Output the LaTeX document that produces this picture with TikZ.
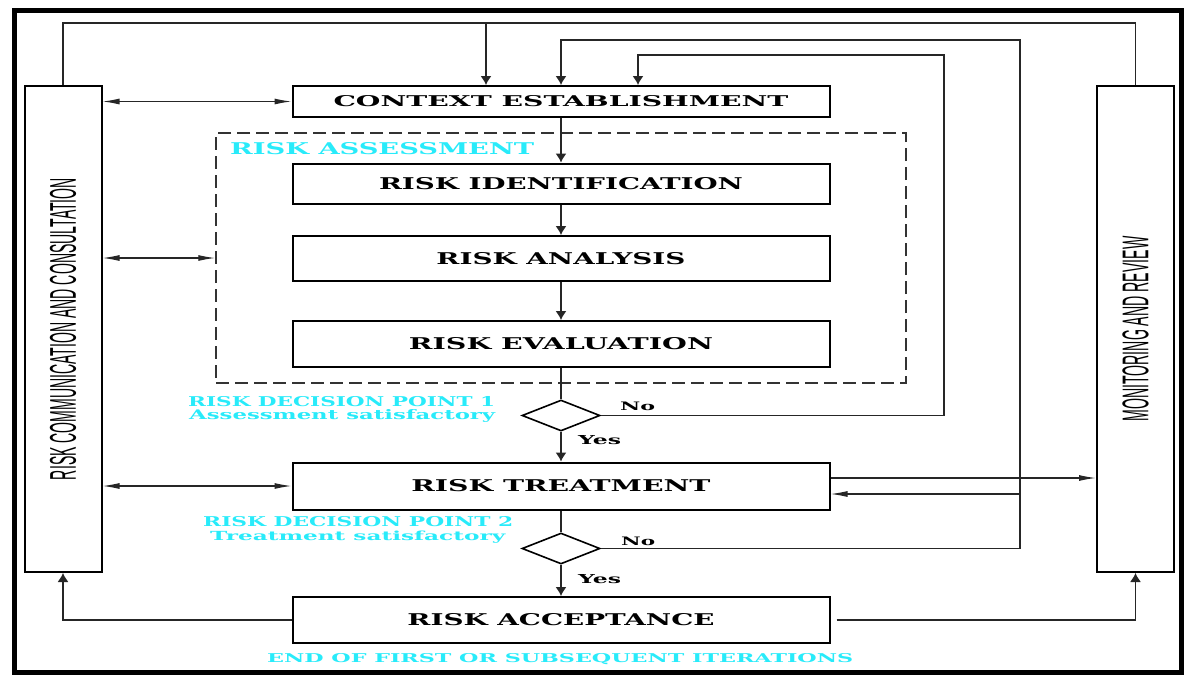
\documentclass[tikz,border=0pt]{standalone}
\usepackage{fontspec}
\setmainfont{DejaVu Serif}
\newfontfamily\vfont{Liberation Sans}
\usetikzlibrary{arrows.meta,shapes.geometric,calc}
\definecolor{cy}{RGB}{40,235,250}
\newcommand{\fitt}[3]{\resizebox{#1pt}{#2pt}{#3}}
\begin{document}
\begin{tikzpicture}[x=1pt,y=-1pt,
  box/.style={draw=black,line width=2pt,minimum width=537pt,inner sep=0pt,fill=white,font=\bfseries},
  tall/.style={draw=black,line width=2pt,minimum width=77pt,minimum height=486pt,inner sep=0pt},
  conn/.style={draw=black!85,line width=1.2pt},
  varr/.style={-{Latex[length=9pt,width=11pt]}},
  harr/.style={-{Latex[length=17pt,width=6pt]}},
  dharr/.style={{Latex[length=17pt,width=6pt]}-{Latex[length=17pt,width=6pt]}},
  dec/.style={diamond,draw=black,line width=1.6pt,minimum width=78pt,minimum height=31pt,inner sep=0pt,aspect=2.5},
  blue/.style={text=cy,inner sep=0pt,font=\bfseries},
  lab/.style={inner sep=0pt,font=\bfseries}]
\useasboundingbox (0,0) rectangle (1184,675);
\fill[white] (0,0) rectangle (1184,675);
\draw[line width=5pt] (14,10) rectangle (1181,672);

% side boxes
\node[tall] (rc) at (63,329) {\rotatebox{90}{\fitt{302}{26}{\vfont RISK COMMUNICATION AND CONSULTATION}}};
\node[tall] (mr) at (1135.5,329) {\rotatebox{90}{\fitt{185}{26}{\vfont MONITORING AND REVIEW}}};

% assessment dashed box
\node[draw=black!80,line width=1.5pt,dash pattern=on 13pt off 6pt,minimum width=690pt,minimum height=250pt,inner sep=0pt] (asm) at (561,258) {};
\node[blue,anchor=west] (asmlab) at (230,149) {\fitt{304}{12}{RISK ASSESSMENT}};

% main boxes
\node[box,minimum height=31pt] (ctx) at (561,101.5) {\fitt{455}{11}{CONTEXT ESTABLISHMENT}};
\node[box,minimum height=40pt] (id) at (561,183.5) {\fitt{364}{12}{RISK IDENTIFICATION}};
\node[box,minimum height=45pt] (an) at (561,258.5) {\fitt{249}{12}{RISK ANALYSIS}};
\node[box,minimum height=46pt] (ev) at (561,344) {\fitt{304}{12}{RISK EVALUATION}};
\node[dec] (d1) at (561,415.5) {};
\node[box,minimum height=47pt] (tr) at (561,486) {\fitt{299}{12}{RISK TREATMENT}};
\node[dec] (d2) at (561,548.5) {};
\node[box,minimum height=46pt] (ac) at (561,620) {\fitt{307}{12}{RISK ACCEPTANCE}};

% blue texts
\node[blue,anchor=west] (dp1) at (188,401.5) {\fitt{307}{10}{RISK DECISION POINT 1}};
\node[blue,anchor=base west] (as1) at (189,419) {\fitt{306}{10}{Assessment satisfactory}};
\node[blue,anchor=west] (dp2) at (203,521.5) {\fitt{310}{10}{RISK DECISION POINT 2}};
\node[blue,anchor=base west] (as2) at (210,540) {\fitt{295}{9.5}{Treatment satisfactory}};
\node[blue,anchor=west] (endl) at (267,659) {\fitt{586}{9}{END OF FIRST OR SUBSEQUENT ITERATIONS}};

% yes / no labels
\node[lab,anchor=base west] (no1) at (620,410) {\fitt{35}{8.5}{No}};
\node[lab,anchor=base west] (yes1) at (578,444) {\fitt{43}{9}{Yes}};
\node[lab,anchor=base west] (no2) at (621,545) {\fitt{34}{8.5}{No}};
\node[lab,anchor=base west] (yes2) at (578,583) {\fitt{43}{9}{Yes}};

% main chain
\draw[conn,varr] (ctx.south) -- (id.north);
\draw[conn,varr] (id.south) -- (an.north);
\draw[conn,varr] (an.south) -- (ev.north);
\draw[conn] (ev.south) -- (d1.north);
\draw[conn,varr] (d1.south) -- (tr.north);
\draw[conn] (tr.south) -- (d2.north);
\draw[conn,varr] (d2.south) -- (ac.north);

% top loop between side boxes
\coordinate (tl) at (63,23);
\coordinate (tb) at (486,23);
\draw[conn] (rc.north) -- (tl) -- (tl -| mr.north) -- (mr.north);
\draw[conn,varr] (tb) -- (tb |- ctx.north);

% No loops
\coordinate (n1) at (944,55);
\coordinate (c1) at (638,55);
\draw[conn,varr] (d1.east) -| (n1) -- (c1) -- (c1 |- ctx.north);
\coordinate (n2) at (1020,40);
\draw[conn,varr] (d2.east) -| (n2) -| (ctx.north);

% treatment <-> monitoring
\coordinate (r1) at ([yshift=8pt]tr.east);
\coordinate (r2) at ([yshift=-8pt]tr.east);
\draw[conn,harr] (r1) -- (r1 -| mr.west);
\draw[conn,harr] (r2 -| n2) -- (r2);

% communication double arrows
\draw[conn,dharr] (rc.east |- ctx.west) -- (ctx.west);
\draw[conn,dharr] (rc.east |- asm.west) -- (asm.west);
\draw[conn,dharr] (rc.east |- tr.west) -- (tr.west);

% acceptance to side boxes
\draw[conn,varr] (ac.west) -| (rc.south);
\draw[conn,varr] ([xshift=6pt]ac.east) -| (mr.south);
\end{tikzpicture}
\end{document}
